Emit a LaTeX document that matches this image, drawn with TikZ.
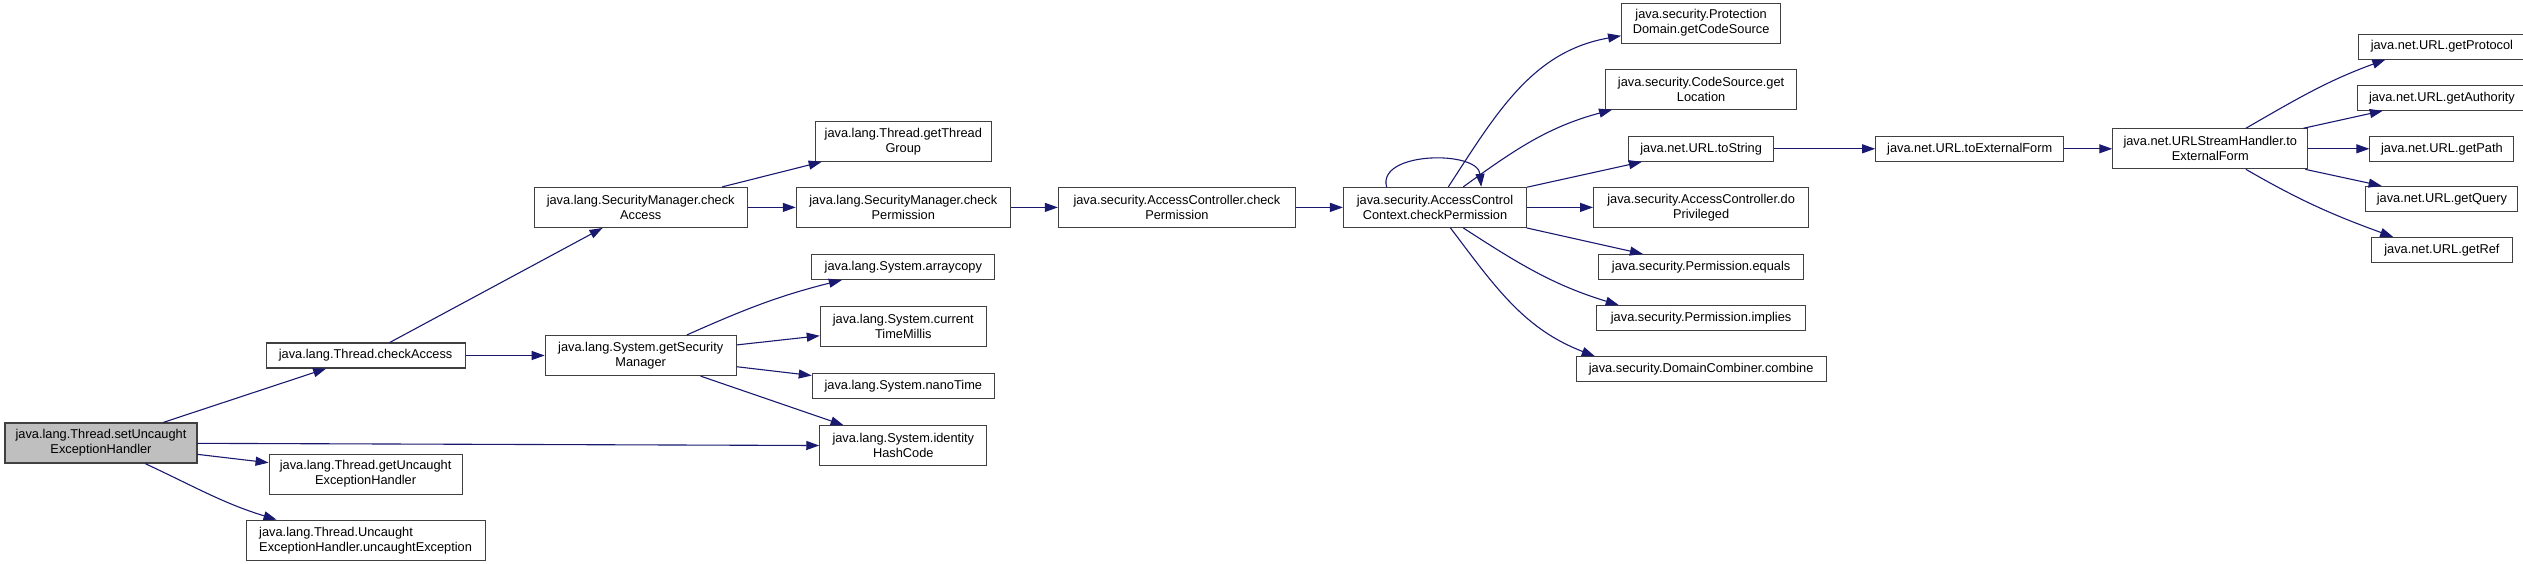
\documentclass[tikz,border=0pt]{standalone}
\usepackage{fontspec}
\setmainfont{Liberation Sans}
\usetikzlibrary{arrows.meta, positioning}
\definecolor{navyE}{HTML}{191970}
\definecolor{boxG}{HTML}{404040}
\definecolor{rootG}{HTML}{BFBFBF}

\begin{document}
\begin{tikzpicture}[
  fn/.style={
    draw=boxG, fill=white,
    font=\fontsize{12.8}{15}\selectfont,
    align=center, inner xsep=2pt, inner ysep=2pt,
    minimum width=#1, minimum height=25pt,
    line width=1.1pt
  },
  fnw/.style={fn=#1, minimum height=40pt},
  focus/.style={fnw=#1, fill=rootG},
  call/.style={-{Triangle[length=13pt, width=9pt]}, line width=1.1pt, navyE}
]
\useasboundingbox (0,0) rectangle (2523pt,-564pt);

%% ═══ ROOT ═══
\node[focus=192pt] (setUEH) at (101pt,-443pt)
  {java.lang.Thread.setUncaught\\ExceptionHandler};

%% ═══ java.lang.Thread ═══
\node[fn=199pt, right=68pt of setUEH, yshift=87.5pt] (thrChk)
  {java.lang.Thread.checkAccess};
\node[fnw=193pt, below=85pt of thrChk] (getUEH)
  {java.lang.Thread.getUncaught\\ExceptionHandler};
\node[fnw=239pt, below=25pt of getUEH, align=left] (uncEx)
  {java.lang.Thread.Uncaught\\ExceptionHandler.uncaughtException};

\draw[call] (setUEH) -- (thrChk);
\draw[call] (setUEH) -- (getUEH);
\draw[call] (setUEH.-25) to[out=-25, in=163] (uncEx.167);

%% ═══ SecurityManager / System ═══
\node[fnw=191pt, right=79pt of thrChk] (getSM)
  {java.lang.System.getSecurity\\Manager};
\node[fnw=213pt, above=107pt of getSM] (smChkA)
  {java.lang.SecurityManager.check\\Access};
\draw[call] (thrChk) -- (smChkA);
\draw[call] (thrChk) -- (getSM);

\node[fnw=214pt, right=48pt of smChkA] (smChkP)
  {java.lang.SecurityManager.check\\Permission};
\node[fnw=176pt, above=25pt of smChkP] (getTG)
  {java.lang.Thread.getThread\\Group};
\node[fn=183pt, below=26pt of smChkP] (arrCp)
  {java.lang.System.arraycopy};
\node[fnw=166pt, below=26pt of arrCp] (curTM)
  {java.lang.System.current\\TimeMillis};
\node[fn=182pt, below=26pt of curTM] (nanoT)
  {java.lang.System.nanoTime};
\node[fnw=167pt, below=26pt of nanoT] (idHash)
  {java.lang.System.identity\\HashCode};

\draw[call] (smChkA) -- (getTG);
\draw[call] (smChkA) -- (smChkP);
\draw[call] (getSM.24) to[out=24, in=194] (arrCp.192);
\draw[call] (getSM) -- (curTM);
\draw[call] (getSM) -- (nanoT);
\draw[call] (getSM) -- (idHash);
\draw[call] (setUEH) -- (idHash);

%% ═══ AccessController ═══
\node[fnw=237pt, right=47pt of smChkP] (acChkP)
  {java.security.AccessController.check\\Permission};
\node[fnw=183pt, right=47pt of acChkP] (accChkP)
  {java.security.AccessControl\\Context.checkPermission};
\draw[call] (smChkP) -- (acChkP);
\draw[call] (acChkP) -- (accChkP);
\draw[call] (accChkP.157) to[out=105, in=95] (accChkP.24);

\node[fnw=215pt, right=66pt of accChkP] (doPriv)
  {java.security.AccessController.do\\Privileged};
\node[fn=145pt, above=25pt of doPriv] (urlStr)
  {java.net.URL.toString};
\node[fnw=191pt, above=26pt of urlStr] (getLoc)
  {java.security.CodeSource.get\\Location};
\node[fnw=159pt, above=25pt of getLoc] (getCS)
  {java.security.Protection\\Domain.getCodeSource};
\node[fn=205pt, below=26pt of doPriv] (permEq)
  {java.security.Permission.equals};
\node[fn=209pt, below=25pt of permEq] (permImp)
  {java.security.Permission.implies};
\node[fn=250pt, below=25pt of permImp] (domComb)
  {java.security.DomainCombiner.combine};

\draw[call] (accChkP.57) to[out=57, in=190] (getCS.189);
\draw[call] (accChkP.36) to[out=36, in=195] (getLoc.193);
\draw[call] (accChkP) -- (urlStr);
\draw[call] (accChkP) -- (doPriv);
\draw[call] (accChkP) -- (permEq);
\draw[call] (accChkP.-36) to[out=-33, in=163] (permImp.171);
\draw[call] (accChkP.-53) to[out=-53, in=159] (domComb.173);

%% ═══ java.net.URL ═══
\node[fn=188pt, right=101pt of urlStr] (urlExt)
  {java.net.URL.toExternalForm};
\node[fnw=195pt, right=48pt of urlExt] (ushExt)
  {java.net.URLStreamHandler.to\\ExternalForm};
\draw[call] (urlStr) -- (urlExt);
\draw[call] (urlExt) -- (ushExt);

\node[fn=144pt, right=61pt of ushExt] (urlPath) {java.net.URL.getPath};
\node[fn=169pt, above=25pt of urlPath] (urlAuth) {java.net.URL.getAuthority};
\node[fn=167pt, above=25pt of urlAuth] (urlProt) {java.net.URL.getProtocol};
\node[fn=152pt, below=24pt of urlPath] (urlQry) {java.net.URL.getQuery};
\node[fn=141pt, below=25pt of urlQry] (urlRef) {java.net.URL.getRef};

\draw[call] (ushExt.30) to[out=30, in=200] (urlProt.193);
\draw[call] (ushExt) -- (urlAuth);
\draw[call] (ushExt) -- (urlPath);
\draw[call] (ushExt) -- (urlQry);
\draw[call] (ushExt.-30) to[out=-30, in=160] (urlRef.165);

\end{tikzpicture}
\end{document}
